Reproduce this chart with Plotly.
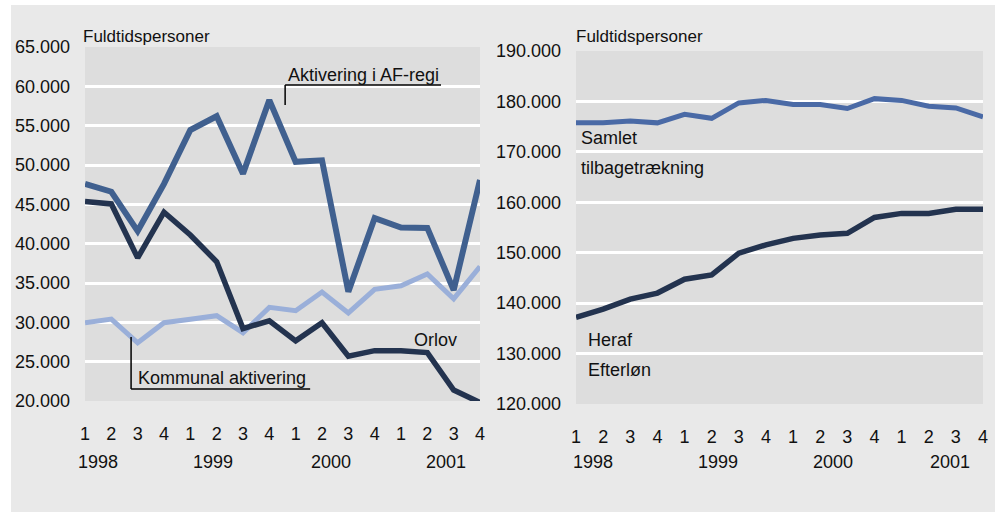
import plotly.graph_objects as go

quarters = ["1", "2", "3", "4"] * 4
years = ["1998", "1999", "2000", "2001"]
year_pos_left = [0.49, 4.86, 9.33, 13.7]
year_pos_right = [0.64, 5.25, 9.48, 13.8]

aktivering_af = [47600, 46600, 41600, 47600, 54450, 56200, 48900, 58250,
                 50400, 50600, 33900, 43250, 42050, 42000, 34100, 48100]
orlov = [45350, 45050, 38200, 44000, 41100, 37700, 29200, 30200,
         27650, 29950, 25700, 26400, 26400, 26150, 21400, 19800]
kommunal = [29950, 30420, 27400, 29950, 30380, 30850, 28680, 31900,
            31480, 33850, 31200, 34200, 34650, 36150, 33000, 37100]

samlet = [175750, 175750, 176100, 175750, 177450, 176650, 179700, 180200,
          179400, 179400, 178600, 180550, 180200, 179050, 178700, 176950]
efterlon = [137200, 138800, 140800, 142000, 144750, 145600, 149900, 151550,
            152850, 153500, 153850, 157000, 157800, 157800, 158600, 158600]

left_yticks = list(range(20000, 65001, 5000))
right_yticks = list(range(120000, 190001, 10000))

def fmt(v):
    return f"{v:,}".replace(",", ".")

FONT = "Liberation Sans, Arial, sans-serif"
W, H = 999, 513
x_idx = list(range(16))

fig = go.Figure()
fig.add_trace(go.Scatter(x=x_idx, y=kommunal, mode="lines", line=dict(color="#9aafd9", width=5),
                         xaxis="x", yaxis="y", hoverinfo="skip"))
fig.add_trace(go.Scatter(x=x_idx, y=orlov, mode="lines", line=dict(color="#23334f", width=5.5),
                         xaxis="x", yaxis="y", hoverinfo="skip"))
fig.add_trace(go.Scatter(x=x_idx, y=aktivering_af, mode="lines", line=dict(color="#40608f", width=6),
                         xaxis="x", yaxis="y", hoverinfo="skip"))
fig.add_trace(go.Scatter(x=x_idx, y=samlet, mode="lines", line=dict(color="#4a6aa6", width=5),
                         xaxis="x2", yaxis="y2", hoverinfo="skip"))
fig.add_trace(go.Scatter(x=x_idx, y=efterlon, mode="lines", line=dict(color="#23334f", width=5.5),
                         xaxis="x2", yaxis="y2", hoverinfo="skip"))

axis_common = dict(showline=False, zeroline=False, fixedrange=True, automargin=False)
xcommon = dict(axis_common, tickvals=x_idx, ticktext=quarters, range=[0, 15], showgrid=False,
               tickfont=dict(size=18, color="#111", family=FONT), ticklabelstandoff=20, ticks="")

fig.update_layout(
    width=W, height=H, margin=dict(l=0, r=0, t=0, b=0, autoexpand=False),
    paper_bgcolor="white", plot_bgcolor="rgba(0,0,0,0)", showlegend=False,
    font=dict(family=FONT, size=18, color="#111"),
    xaxis=dict(xcommon, domain=[85 / W, 480 / W], anchor="y"),
    yaxis=dict(axis_common, domain=[1 - 401 / H, 1 - 47 / H], anchor="x", range=[20000, 65000],
               tickvals=left_yticks, ticktext=[fmt(v) for v in left_yticks],
               showgrid=True, gridcolor="white", gridwidth=2.5, ticklabelstandoff=14,
               tickfont=dict(size=18, color="#111", family=FONT)),
    xaxis2=dict(xcommon, domain=[576 / W, 983 / W], anchor="y2"),
    yaxis2=dict(axis_common, domain=[1 - 404 / H, 1 - 51 / H], anchor="x2", range=[120000, 190000],
                tickvals=right_yticks, ticktext=[fmt(v) for v in right_yticks],
                showgrid=True, gridcolor="white", gridwidth=2.5, ticklabelstandoff=14,
                tickfont=dict(size=18, color="#111", family=FONT)),
)

shapes = [
    dict(type="rect", xref="paper", yref="paper", x0=11 / W, x1=995 / W, y0=1 - 512 / H, y1=1 - 5 / H,
         fillcolor="#e9e9e9", line=dict(width=0), layer="below"),
    dict(type="rect", xref="x domain", yref="y domain", x0=0, x1=1, y0=0, y1=1,
         fillcolor="#dddddd", line=dict(width=0), layer="below"),
    dict(type="rect", xref="x2 domain", yref="y2 domain", x0=0, x1=1, y0=0, y1=1,
         fillcolor="#dddddd", line=dict(width=0), layer="below"),
    # leader for Aktivering i AF-regi
    dict(type="line", xref="x", yref="y", x0=7.6, x1=7.6, y0=60170, y1=57630, line=dict(color="black", width=1.5)),
    dict(type="line", xref="x", yref="y", x0=7.6, x1=13.52, y0=60170, y1=60170, line=dict(color="black", width=1.5)),
    # leader for Kommunal aktivering
    dict(type="line", xref="x", yref="y", x0=1.75, x1=1.75, y0=28130, y1=21520, line=dict(color="black", width=1.5)),
    dict(type="line", xref="x", yref="y", x0=1.75, x1=8.55, y0=21520, y1=21520, line=dict(color="black", width=1.5)),
]
fig.update_layout(shapes=shapes)

ann = []
def add_text(text, x, y, xref, yref, size=18, xanchor="left", yanchor="middle"):
    ann.append(dict(text=text, x=x, y=y, xref=xref, yref=yref, showarrow=False, xanchor=xanchor,
                    yanchor=yanchor, font=dict(size=size, color="#111", family=FONT)))

add_text("Fuldtidspersoner", 81 / W, 1 - 36 / H, "paper", "paper", size=17)
add_text("Fuldtidspersoner", 574 / W, 1 - 36 / H, "paper", "paper", size=17)
add_text("Aktivering i AF-regi", 7.62, 61450, "x", "y")
add_text("Kommunal aktivering", 1.95, 22950, "x", "y")
add_text("Orlov", 12.42, 27750, "x", "y")
add_text("Samlet", 0.12, 172750, "x2", "y2")
add_text("tilbagetrækning", 0.12, 166800, "x2", "y2")
add_text("Heraf", 0.38, 132700, "x2", "y2")
add_text("Efterløn", 0.38, 126750, "x2", "y2")
for yr, xp in zip(years, year_pos_left):
    add_text(yr, xp, 1 - 462 / H, "x", "paper", xanchor="center")
for yr, xp in zip(years, year_pos_right):
    add_text(yr, xp, 1 - 462 / H, "x2", "paper", xanchor="center")
fig.update_layout(annotations=ann)

fig.write_html("out.html", config={"displayModeBar": False},
               post_script="document.body.style.margin='0';")
